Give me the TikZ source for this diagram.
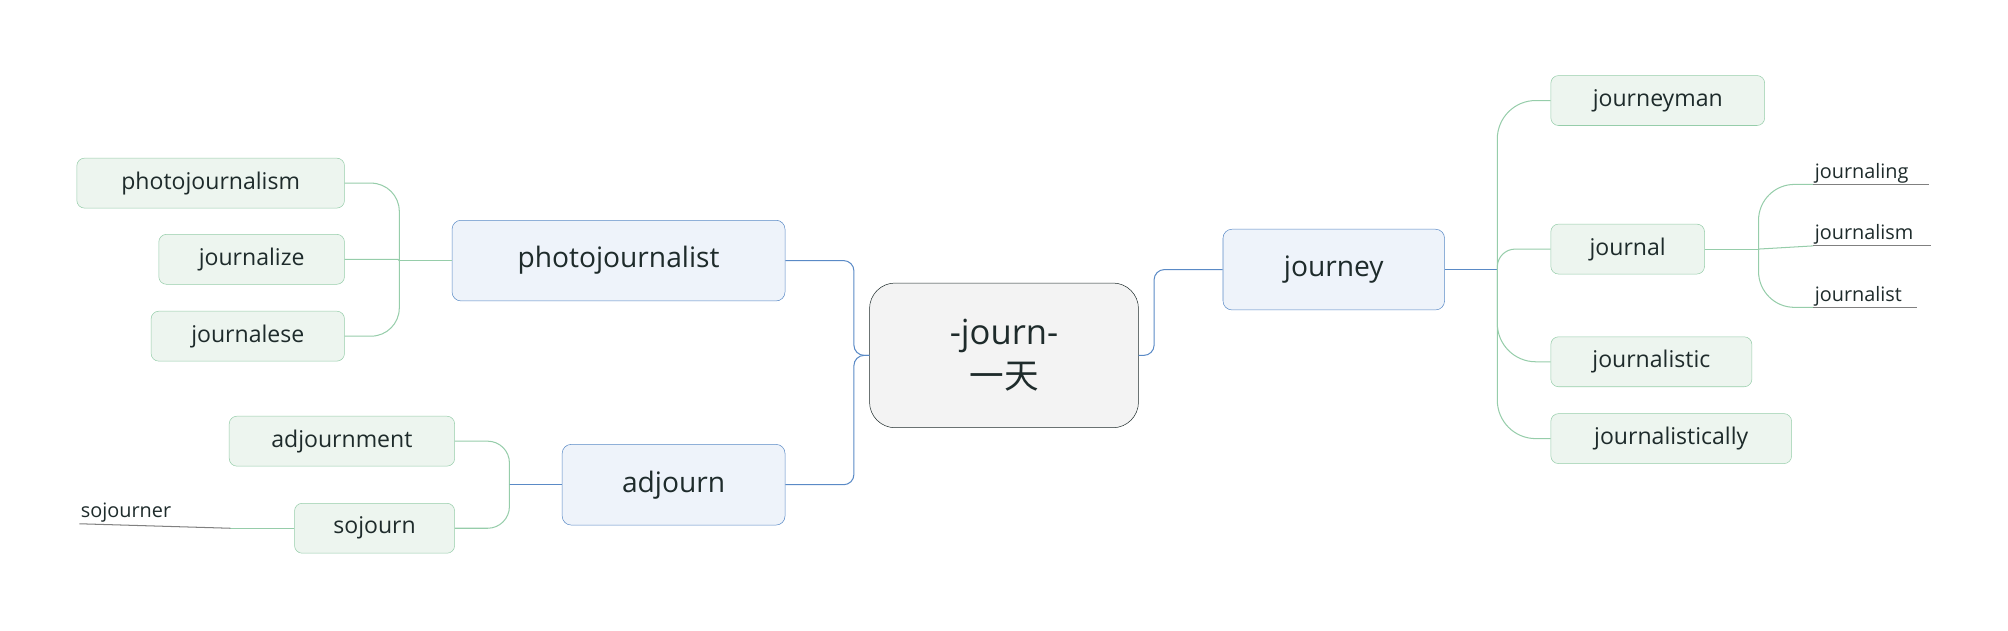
\documentclass[tikz,border=0pt]{standalone}
\usepackage{fontspec}
\setmainfont{Open Sans}
\newfontfamily\cjk{Noto Sans CJK SC}
\definecolor{bluefill}{HTML}{EEF3FA}
\definecolor{blueline}{HTML}{5A8AC6}
\definecolor{greenfill}{HTML}{EDF5EF}
\definecolor{greenline}{HTML}{96CDAA}
\definecolor{rootfill}{HTML}{F3F3F3}
\definecolor{inkcol}{HTML}{1E2B2B}
\begin{document}
\begin{tikzpicture}[x=1pt, y=-1pt, text=inkcol]

        % --- STYLES ---
        \tikzset{
          rootbox/.style={draw=inkcol, fill=rootfill, rounded corners=20pt, align=center,
            minimum width=210pt, minimum height=113pt, font=\fontsize{27}{34}\selectfont},
          mainbox/.style={draw=blueline, fill=bluefill, rounded corners=7pt,
            minimum height=63pt, font=\fontsize{22}{26}\selectfont},
          subbox/.style={draw=greenline, fill=greenfill, rounded corners=6pt,
            minimum height=39pt, font=\fontsize{18}{22}\selectfont},
          leaf/.style={inner sep=1pt, font=\fontsize{15.5}{18}\selectfont},
          bline/.style={draw=blueline, line width=0.8pt},
          gline/.style={draw=greenline, line width=0.8pt},
          uline/.style={draw=gray, line width=0.8pt}
        }

        \useasboundingbox (0,0) rectangle (1568,492);

        % --- ROOT AND MAIN TOPICS ---
        \node[rootbox] (root) at (784,277.5) {-journ-\\{\cjk 一天}};
        \node[mainbox, minimum width=173pt] (journey) at (1041.5,210.5) {journey};
        \node[mainbox, minimum width=260pt] (photo) at (483,203.5) {photojournalist};
        \node[mainbox, minimum width=174pt] (adjourn) at (526,378.5) {adjourn};

        % --- RIGHT BRANCH ---
        \node[subbox, minimum width=167pt] (jman) at (1294.5,78.5) {journeyman};
        \node[subbox, minimum width=120pt] (jal) at (1271,194.5) {journal};
        \node[subbox, minimum width=157pt] (jtic) at (1289.5,282.5) {journalistic};
        \node[subbox, minimum width=188pt] (jtly) at (1305,342.5) {journalistically};

        \node[leaf, anchor=south west] (jling) at (1416,144) {journaling};
        \node[leaf, anchor=south west] (jism) at (1416,192) {journalism};
        \node[leaf, anchor=south west] (jist) at (1416,240) {journalist};

        % --- LEFT BRANCH ---
        \node[subbox, minimum width=209pt] (pism) at (164.5,143) {photojournalism};
        \node[subbox, minimum width=145pt] (jize) at (196.5,202.5) {journalize};
        \node[subbox, minimum width=151pt] (jese) at (193.5,262.5) {journalese};
        \node[subbox, minimum width=176pt] (adjmt) at (267,344.5) {adjournment};
        \node[subbox, minimum width=125pt] (soj) at (292.5,412.5) {sojourn};
        \node[leaf, anchor=south west] (sojr) at (62,409) {sojourner};

        % --- CONNECTORS ---
        \draw[bline, rounded corners=8pt] (root.east) -- ++(12,0) |- (journey.west);
        \draw[bline, rounded corners=8pt] (root.west) -- ++(-12,0) |- (photo.east);
        \draw[bline, rounded corners=8pt] (root.west) -- ++(-12,0) |- (adjourn.east);

        \draw[bline] (journey.east) -- ++(41,0) coordinate (jt);
        \foreach \kid/\r in {jman/30pt, jal/14pt, jtic/30pt, jtly/30pt}
          \draw[gline, rounded corners=\r] (jt) |- (\kid.west);

        \draw[gline] (jal.east) -- ++(42,0) coordinate (lt);
        \draw[gline, rounded corners=28pt] (lt) |- (jling.south west);
        \draw[gline] (lt) -- (jism.south west);
        \draw[gline, rounded corners=28pt] (lt) |- (jist.south west);
        \draw[uline] (jling.south west) -- ++(90,0);
        \draw[uline] (jism.south west) -- ++(92,0);
        \draw[uline] (jist.south west) -- ++(81,0);

        \draw[gline] (photo.west) -- ++(-41,0) coordinate (pt);
        \foreach \kid/\r in {pism/22pt, jize/1pt, jese/22pt}
          \draw[gline, rounded corners=\r] (pt) |- (\kid.east);

        \draw[bline] (adjourn.west) -- ++(-41,0) coordinate (at);
        \draw[gline, rounded corners=17pt] (at) |- (adjmt.east);
        \draw[gline, rounded corners=17pt] (at) |- (soj.east);

        \draw[gline] (soj.west) -- ++(-50,0) coordinate (st);
        \draw[uline] (st) -- (sojr.south west);

\end{tikzpicture}
\end{document}
